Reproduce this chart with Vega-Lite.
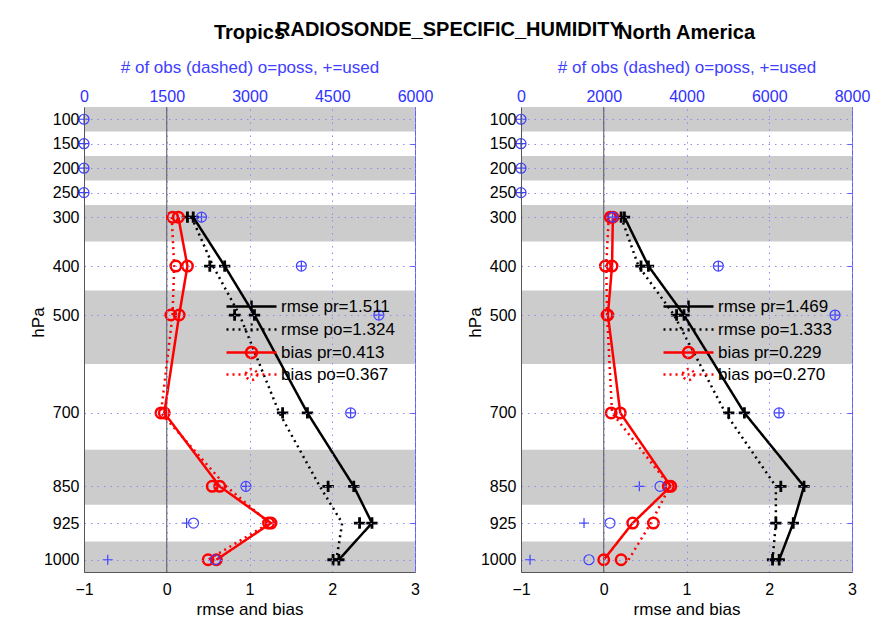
{
  "$schema": "https://vega.github.io/schema/vega-lite/v6.json",
  "padding": {"left": 29, "top": 20, "right": 2, "bottom": 5},
  "background": "white",
  "config": {
    "font": "Liberation Sans",
    "view": {"stroke": null},
    "axis": {"labelFontSize": 16, "titleFontSize": 17, "titleFontWeight": "normal", "labelColor": "black", "titleColor": "black", "labelFlush": false},
    "legend": {"labelFont": "Liberation Sans"}
  },
  "title": {"text": "RADIOSONDE_SPECIFIC_HUMIDITY", "fontSize": 20, "fontWeight": "bold", "anchor": "middle", "dy": 21, "color": "black"},
  "datasets": {
    "bands": [
      {"level": 75, "level_end": 125},
      {"level": 175, "level_end": 225},
      {"level": 275, "level_end": 350},
      {"level": 450, "level_end": 600},
      {"level": 775, "level_end": 887.5},
      {"level": 962.5, "level_end": 1025}
    ],
    "trop_series": [
      {"series": "rmse pr=1.511", "level": 300, "value": 0.32, "lineval": 0.32},
      {"series": "rmse pr=1.511", "level": 400, "value": 0.70, "lineval": 0.70},
      {"series": "rmse pr=1.511", "level": 500, "value": 1.06, "lineval": 1.06},
      {"series": "rmse pr=1.511", "level": 700, "value": 1.70, "lineval": 1.70},
      {"series": "rmse pr=1.511", "level": 850, "value": 2.26, "lineval": 2.26},
      {"series": "rmse pr=1.511", "level": 925, "value": 2.48, "lineval": 2.48},
      {"series": "rmse pr=1.511", "level": 1000, "value": 2.08, "lineval": 2.08},
      {"series": "rmse po=1.324", "level": 300, "value": 0.25, "lineval": 0.30},
      {"series": "rmse po=1.324", "level": 400, "value": 0.52, "lineval": 0.56},
      {"series": "rmse po=1.324", "level": 500, "value": 0.82, "lineval": 0.88},
      {"series": "rmse po=1.324", "level": 700, "value": 1.40, "lineval": 1.36},
      {"series": "rmse po=1.324", "level": 850, "value": 1.95, "lineval": 1.85},
      {"series": "rmse po=1.324", "level": 925, "value": 2.33, "lineval": 2.12},
      {"series": "rmse po=1.324", "level": 1000, "value": 2.01, "lineval": 2.05},
      {"series": "bias pr=0.413", "level": 300, "value": 0.14, "lineval": 0.14},
      {"series": "bias pr=0.413", "level": 400, "value": 0.25, "lineval": 0.25},
      {"series": "bias pr=0.413", "level": 500, "value": 0.15, "lineval": 0.15},
      {"series": "bias pr=0.413", "level": 700, "value": -0.03, "lineval": -0.03},
      {"series": "bias pr=0.413", "level": 850, "value": 0.64, "lineval": 0.64},
      {"series": "bias pr=0.413", "level": 925, "value": 1.26, "lineval": 1.26},
      {"series": "bias pr=0.413", "level": 1000, "value": 0.60, "lineval": 0.60},
      {"series": "bias po=0.367", "level": 300, "value": 0.07, "lineval": 0.06},
      {"series": "bias po=0.367", "level": 400, "value": 0.11, "lineval": 0.09},
      {"series": "bias po=0.367", "level": 500, "value": 0.05, "lineval": 0.07},
      {"series": "bias po=0.367", "level": 700, "value": -0.07, "lineval": -0.07},
      {"series": "bias po=0.367", "level": 850, "value": 0.55, "lineval": 0.72},
      {"series": "bias po=0.367", "level": 925, "value": 1.23, "lineval": 1.24},
      {"series": "bias po=0.367", "level": 1000, "value": 0.50, "lineval": 0.50}
    ],
    "trop_obs": [
      {"level": 100, "poss": 0, "used": 0},
      {"level": 150, "poss": 0, "used": 0},
      {"level": 200, "poss": 0, "used": 0},
      {"level": 250, "poss": 0, "used": 0},
      {"level": 300, "poss": 2130, "used": 2130},
      {"level": 400, "poss": 3940, "used": 3940},
      {"level": 500, "poss": 5345, "used": 5345},
      {"level": 700, "poss": 4833, "used": 4833},
      {"level": 850, "poss": 2935, "used": 2935},
      {"level": 925, "poss": 1985, "used": 1860},
      {"level": 1000, "poss": 2380, "used": 430}
    ],
    "na_series": [
      {"series": "rmse pr=1.469", "level": 300, "value": 0.25, "lineval": 0.25},
      {"series": "rmse pr=1.469", "level": 400, "value": 0.54, "lineval": 0.54},
      {"series": "rmse pr=1.469", "level": 500, "value": 0.97, "lineval": 0.97},
      {"series": "rmse pr=1.469", "level": 700, "value": 1.70, "lineval": 1.70},
      {"series": "rmse pr=1.469", "level": 850, "value": 2.42, "lineval": 2.42},
      {"series": "rmse pr=1.469", "level": 925, "value": 2.29, "lineval": 2.29},
      {"series": "rmse pr=1.469", "level": 1000, "value": 2.12, "lineval": 2.12},
      {"series": "rmse po=1.333", "level": 300, "value": 0.21, "lineval": 0.21},
      {"series": "rmse po=1.333", "level": 400, "value": 0.45, "lineval": 0.42},
      {"series": "rmse po=1.333", "level": 500, "value": 0.88, "lineval": 0.85},
      {"series": "rmse po=1.333", "level": 700, "value": 1.51, "lineval": 1.47},
      {"series": "rmse po=1.333", "level": 850, "value": 2.14, "lineval": 2.08},
      {"series": "rmse po=1.333", "level": 925, "value": 2.08, "lineval": 2.08},
      {"series": "rmse po=1.333", "level": 1000, "value": 2.04, "lineval": 2.04},
      {"series": "bias pr=0.229", "level": 300, "value": 0.11, "lineval": 0.11},
      {"series": "bias pr=0.229", "level": 400, "value": 0.10, "lineval": 0.10},
      {"series": "bias pr=0.229", "level": 500, "value": 0.05, "lineval": 0.05},
      {"series": "bias pr=0.229", "level": 700, "value": 0.20, "lineval": 0.20},
      {"series": "bias pr=0.229", "level": 850, "value": 0.81, "lineval": 0.81},
      {"series": "bias pr=0.229", "level": 925, "value": 0.35, "lineval": 0.35},
      {"series": "bias pr=0.229", "level": 1000, "value": 0.00, "lineval": 0.00},
      {"series": "bias po=0.270", "level": 300, "value": 0.08, "lineval": 0.06},
      {"series": "bias po=0.270", "level": 400, "value": 0.02, "lineval": 0.03},
      {"series": "bias po=0.270", "level": 500, "value": 0.04, "lineval": 0.04},
      {"series": "bias po=0.270", "level": 700, "value": 0.09, "lineval": 0.10},
      {"series": "bias po=0.270", "level": 850, "value": 0.78, "lineval": 0.80},
      {"series": "bias po=0.270", "level": 925, "value": 0.60, "lineval": 0.57},
      {"series": "bias po=0.270", "level": 1000, "value": 0.21, "lineval": 0.30}
    ],
    "na_obs": [
      {"level": 100, "poss": 0, "used": 0},
      {"level": 150, "poss": 0, "used": 0},
      {"level": 200, "poss": 0, "used": 0},
      {"level": 250, "poss": 0, "used": 0},
      {"level": 300, "poss": 2216, "used": 2216},
      {"level": 400, "poss": 4770, "used": 4770},
      {"level": 500, "poss": 7590, "used": 7590},
      {"level": 700, "poss": 6236, "used": 6236},
      {"level": 850, "poss": 3360, "used": 2860},
      {"level": 925, "poss": 2151, "used": 1523},
      {"level": 1000, "poss": 1643, "used": 218}
    ]
  },
  "spacing": 33,
  "resolve": {"scale": {"color": "independent", "strokeDash": "independent"}},
  "hconcat": [
    {
      "title": {"text": "Tropics", "fontSize": 20, "fontWeight": "bold", "offset": 15, "color": "black"},
      "width": 331,
      "height": 465,
      "resolve": {"scale": {"x": "independent", "y": "independent"}},
      "layer": [
        {
          "layer": [
            {
              "data": {"name": "bands"},
              "mark": {"type": "rect", "color": "#cccccc"},
              "encoding": {
                "y": {"field": "level", "type": "quantitative", "scale": {"domain": [75, 1025], "reverse": true, "nice": false, "zero": false},
                  "axis": {"title": "hPa", "format": "d", "values": [100, 150, 200, 250, 300, 400, 500, 700, 850, 925, 1000], "ticks": false, "labelPadding": 5, "grid": true, "gridColor": "#8c8cf0", "gridDash": [1.5, 5], "gridWidth": 1, "domainColor": "#555555", "titleX": -37, "titleY": 215, "zindex": 1}},
                "y2": {"field": "level_end"}
              }
            },
            {
              "data": {"values": [{}]},
              "mark": {"type": "rule", "color": "#555555", "strokeWidth": 1},
              "encoding": {"x": {"datum": 0, "type": "quantitative", "scale": {"domain": [-1, 3], "nice": false, "zero": false}}}
            },
            {
              "data": {"name": "trop_series"},
              "mark": {"type": "line", "strokeWidth": 2.5},
              "encoding": {
                "x": {"field": "lineval", "type": "quantitative", "title": "rmse and bias", "scale": {"domain": [-1, 3], "nice": false, "zero": false},
                  "axis": {"title": "rmse and bias", "format": "d", "values": [-1, 0, 1, 2, 3], "ticks": false, "labelPadding": 9, "titlePadding": 4, "grid": true, "gridColor": "#8c8cf0", "gridDash": [1.5, 5], "gridWidth": 1, "domainColor": "#555555", "zindex": 1}},
                "y": {"field": "level", "type": "quantitative", "title": "hPa", "scale": {"domain": [75, 1025], "reverse": true, "nice": false, "zero": false}},
                "color": {"field": "series", "type": "nominal",
                  "scale": {"domain": ["rmse pr=1.511", "rmse po=1.324", "bias pr=0.413", "bias po=0.367"], "range": ["#000000", "#000000", "#ff0000", "#ff0000"]},
                  "legend": {"orient": "none", "legendX": 156, "legendY": 188, "title": null, "labelFontSize": 17, "symbolSize": 400, "symbolStrokeWidth": 2.5, "rowPadding": -0.5, "labelOffset": 18, "padding": 0,
                    "encode": {"symbols": {"update": {"shape": {"signal": "indexof(datum.value, 'rmse') >= 0 ? 'M-2.5,0H2.5M0,-0.6V0.6' : 'M-2.5,0H2.5M0.55,0A0.55,0.55,0,1,1,-0.55,0A0.55,0.55,0,1,1,0.55,0'"}, "fill": {"value": "transparent"}}}}}},
                "strokeDash": {"field": "series", "type": "nominal",
                  "scale": {"domain": ["rmse pr=1.511", "rmse po=1.324", "bias pr=0.413", "bias po=0.367"], "range": [[1, 0], [2, 4], [1, 0], [2, 4]]},
                  "legend": {"orient": "none", "legendX": 156, "legendY": 188, "title": null, "labelFontSize": 17, "symbolSize": 400, "symbolStrokeWidth": 2.5, "rowPadding": -0.5, "labelOffset": 18, "padding": 0,
                    "encode": {"symbols": {"update": {"shape": {"signal": "indexof(datum.value, 'rmse') >= 0 ? 'M-2.5,0H2.5M0,-0.6V0.6' : 'M-2.5,0H2.5M0.55,0A0.55,0.55,0,1,1,-0.55,0A0.55,0.55,0,1,1,0.55,0'"}, "fill": {"value": "transparent"}}}}}},
                "order": {"field": "level", "type": "quantitative"}
              }
            },
            {
              "data": {"name": "trop_series"},
              "transform": [{"filter": "indexof(datum.series, 'rmse') >= 0"}],
              "mark": {"type": "point", "shape": "M-1,0H1M0,-1V1", "filled": false, "color": "#000000", "size": 130, "strokeWidth": 2.8, "opacity": 1},
              "encoding": {
                "x": {"field": "value", "type": "quantitative", "title": "rmse and bias", "scale": {"domain": [-1, 3], "nice": false, "zero": false}},
                "y": {"field": "level", "type": "quantitative", "title": "hPa", "scale": {"domain": [75, 1025], "reverse": true, "nice": false, "zero": false}}
              }
            },
            {
              "data": {"name": "trop_series"},
              "transform": [{"filter": "indexof(datum.series, 'bias') >= 0"}],
              "mark": {"type": "point", "shape": "circle", "filled": false, "color": "#ff0000", "size": 110, "strokeWidth": 2.5, "opacity": 1},
              "encoding": {
                "x": {"field": "value", "type": "quantitative", "title": "rmse and bias", "scale": {"domain": [-1, 3], "nice": false, "zero": false}},
                "y": {"field": "level", "type": "quantitative", "title": "hPa", "scale": {"domain": [75, 1025], "reverse": true, "nice": false, "zero": false}}
              }
            }
          ]
        },
        {
          "data": {"name": "trop_obs"},
          "layer": [
            {
              "mark": {"type": "point", "shape": "circle", "filled": false, "color": "#4040ff", "size": 100, "strokeWidth": 1.2, "opacity": 1},
              "encoding": {
                "x": {"field": "poss", "type": "quantitative", "title": "# of obs (dashed) o=poss, +=used", "scale": {"domain": [0, 6000], "nice": false, "zero": false},
                  "axis": {"orient": "top", "title": "# of obs (dashed) o=poss, +=used", "values": [0, 1500, 3000, 4500, 6000], "format": "d", "labelColor": "#3030ff", "titleColor": "#4040ff", "domainColor": "#6060ff", "tickColor": "#6060ff", "tickSize": -5, "labelPadding": 8, "titlePadding": 12, "grid": false}},
                "y": {"field": "level", "type": "quantitative", "scale": {"domain": [75, 1025], "reverse": true, "nice": false, "zero": false},
                  "axis": {"orient": "right", "title": null, "labels": false, "values": [100, 150, 200, 250, 300, 400, 500, 700, 850, 925, 1000], "tickSize": -5, "tickColor": "#6060ff", "domainColor": "#6060ff", "grid": false}}
              }
            },
            {
              "mark": {"type": "point", "shape": "M-1,0H1M0,-1V1", "filled": false, "color": "#4040ff", "size": 100, "strokeWidth": 1.2, "opacity": 1},
              "encoding": {
                "x": {"field": "used", "type": "quantitative", "title": "# of obs (dashed) o=poss, +=used", "scale": {"domain": [0, 6000], "nice": false, "zero": false}},
                "y": {"field": "level", "type": "quantitative", "title": null, "scale": {"domain": [75, 1025], "reverse": true, "nice": false, "zero": false}}
              }
            }
          ]
        }
      ]
    },
    {
      "title": {"text": "North America", "fontSize": 20, "fontWeight": "bold", "offset": 15, "color": "black"},
      "width": 331,
      "height": 465,
      "resolve": {"scale": {"x": "independent", "y": "independent"}},
      "layer": [
        {
          "layer": [
            {
              "data": {"name": "bands"},
              "mark": {"type": "rect", "color": "#cccccc"},
              "encoding": {
                "y": {"field": "level", "type": "quantitative", "scale": {"domain": [75, 1025], "reverse": true, "nice": false, "zero": false},
                  "axis": {"title": "hPa", "format": "d", "values": [100, 150, 200, 250, 300, 400, 500, 700, 850, 925, 1000], "ticks": false, "labelPadding": 5, "grid": true, "gridColor": "#8c8cf0", "gridDash": [1.5, 5], "gridWidth": 1, "domainColor": "#555555", "titleX": -37, "titleY": 215, "zindex": 1}},
                "y2": {"field": "level_end"}
              }
            },
            {
              "data": {"values": [{}]},
              "mark": {"type": "rule", "color": "#555555", "strokeWidth": 1},
              "encoding": {"x": {"datum": 0, "type": "quantitative", "scale": {"domain": [-1, 3], "nice": false, "zero": false}}}
            },
            {
              "data": {"name": "na_series"},
              "mark": {"type": "line", "strokeWidth": 2.5},
              "encoding": {
                "x": {"field": "lineval", "type": "quantitative", "title": "rmse and bias", "scale": {"domain": [-1, 3], "nice": false, "zero": false},
                  "axis": {"title": "rmse and bias", "format": "d", "values": [-1, 0, 1, 2, 3], "ticks": false, "labelPadding": 9, "titlePadding": 4, "grid": true, "gridColor": "#8c8cf0", "gridDash": [1.5, 5], "gridWidth": 1, "domainColor": "#555555", "zindex": 1}},
                "y": {"field": "level", "type": "quantitative", "title": "hPa", "scale": {"domain": [75, 1025], "reverse": true, "nice": false, "zero": false}},
                "color": {"field": "series", "type": "nominal",
                  "scale": {"domain": ["rmse pr=1.469", "rmse po=1.333", "bias pr=0.229", "bias po=0.270"], "range": ["#000000", "#000000", "#ff0000", "#ff0000"]},
                  "legend": {"orient": "none", "legendX": 156, "legendY": 188, "title": null, "labelFontSize": 17, "symbolSize": 400, "symbolStrokeWidth": 2.5, "rowPadding": -0.5, "labelOffset": 18, "padding": 0,
                    "encode": {"symbols": {"update": {"shape": {"signal": "indexof(datum.value, 'rmse') >= 0 ? 'M-2.5,0H2.5M0,-0.6V0.6' : 'M-2.5,0H2.5M0.55,0A0.55,0.55,0,1,1,-0.55,0A0.55,0.55,0,1,1,0.55,0'"}, "fill": {"value": "transparent"}}}}}},
                "strokeDash": {"field": "series", "type": "nominal",
                  "scale": {"domain": ["rmse pr=1.469", "rmse po=1.333", "bias pr=0.229", "bias po=0.270"], "range": [[1, 0], [2, 4], [1, 0], [2, 4]]},
                  "legend": {"orient": "none", "legendX": 156, "legendY": 188, "title": null, "labelFontSize": 17, "symbolSize": 400, "symbolStrokeWidth": 2.5, "rowPadding": -0.5, "labelOffset": 18, "padding": 0,
                    "encode": {"symbols": {"update": {"shape": {"signal": "indexof(datum.value, 'rmse') >= 0 ? 'M-2.5,0H2.5M0,-0.6V0.6' : 'M-2.5,0H2.5M0.55,0A0.55,0.55,0,1,1,-0.55,0A0.55,0.55,0,1,1,0.55,0'"}, "fill": {"value": "transparent"}}}}}},
                "order": {"field": "level", "type": "quantitative"}
              }
            },
            {
              "data": {"name": "na_series"},
              "transform": [{"filter": "indexof(datum.series, 'rmse') >= 0"}],
              "mark": {"type": "point", "shape": "M-1,0H1M0,-1V1", "filled": false, "color": "#000000", "size": 130, "strokeWidth": 2.8, "opacity": 1},
              "encoding": {
                "x": {"field": "value", "type": "quantitative", "title": "rmse and bias", "scale": {"domain": [-1, 3], "nice": false, "zero": false}},
                "y": {"field": "level", "type": "quantitative", "title": "hPa", "scale": {"domain": [75, 1025], "reverse": true, "nice": false, "zero": false}}
              }
            },
            {
              "data": {"name": "na_series"},
              "transform": [{"filter": "indexof(datum.series, 'bias') >= 0"}],
              "mark": {"type": "point", "shape": "circle", "filled": false, "color": "#ff0000", "size": 110, "strokeWidth": 2.5, "opacity": 1},
              "encoding": {
                "x": {"field": "value", "type": "quantitative", "title": "rmse and bias", "scale": {"domain": [-1, 3], "nice": false, "zero": false}},
                "y": {"field": "level", "type": "quantitative", "title": "hPa", "scale": {"domain": [75, 1025], "reverse": true, "nice": false, "zero": false}}
              }
            }
          ]
        },
        {
          "data": {"name": "na_obs"},
          "layer": [
            {
              "mark": {"type": "point", "shape": "circle", "filled": false, "color": "#4040ff", "size": 100, "strokeWidth": 1.2, "opacity": 1},
              "encoding": {
                "x": {"field": "poss", "type": "quantitative", "title": "# of obs (dashed) o=poss, +=used", "scale": {"domain": [0, 8000], "nice": false, "zero": false},
                  "axis": {"orient": "top", "title": "# of obs (dashed) o=poss, +=used", "values": [0, 2000, 4000, 6000, 8000], "format": "d", "labelColor": "#3030ff", "titleColor": "#4040ff", "domainColor": "#6060ff", "tickColor": "#6060ff", "tickSize": -5, "labelPadding": 8, "titlePadding": 12, "grid": false}},
                "y": {"field": "level", "type": "quantitative", "scale": {"domain": [75, 1025], "reverse": true, "nice": false, "zero": false},
                  "axis": {"orient": "right", "title": null, "labels": false, "values": [100, 150, 200, 250, 300, 400, 500, 700, 850, 925, 1000], "tickSize": -5, "tickColor": "#6060ff", "domainColor": "#6060ff", "grid": false}}
              }
            },
            {
              "mark": {"type": "point", "shape": "M-1,0H1M0,-1V1", "filled": false, "color": "#4040ff", "size": 100, "strokeWidth": 1.2, "opacity": 1},
              "encoding": {
                "x": {"field": "used", "type": "quantitative", "title": "# of obs (dashed) o=poss, +=used", "scale": {"domain": [0, 8000], "nice": false, "zero": false}},
                "y": {"field": "level", "type": "quantitative", "title": null, "scale": {"domain": [75, 1025], "reverse": true, "nice": false, "zero": false}}
              }
            }
          ]
        }
      ]
    }
  ]
}
